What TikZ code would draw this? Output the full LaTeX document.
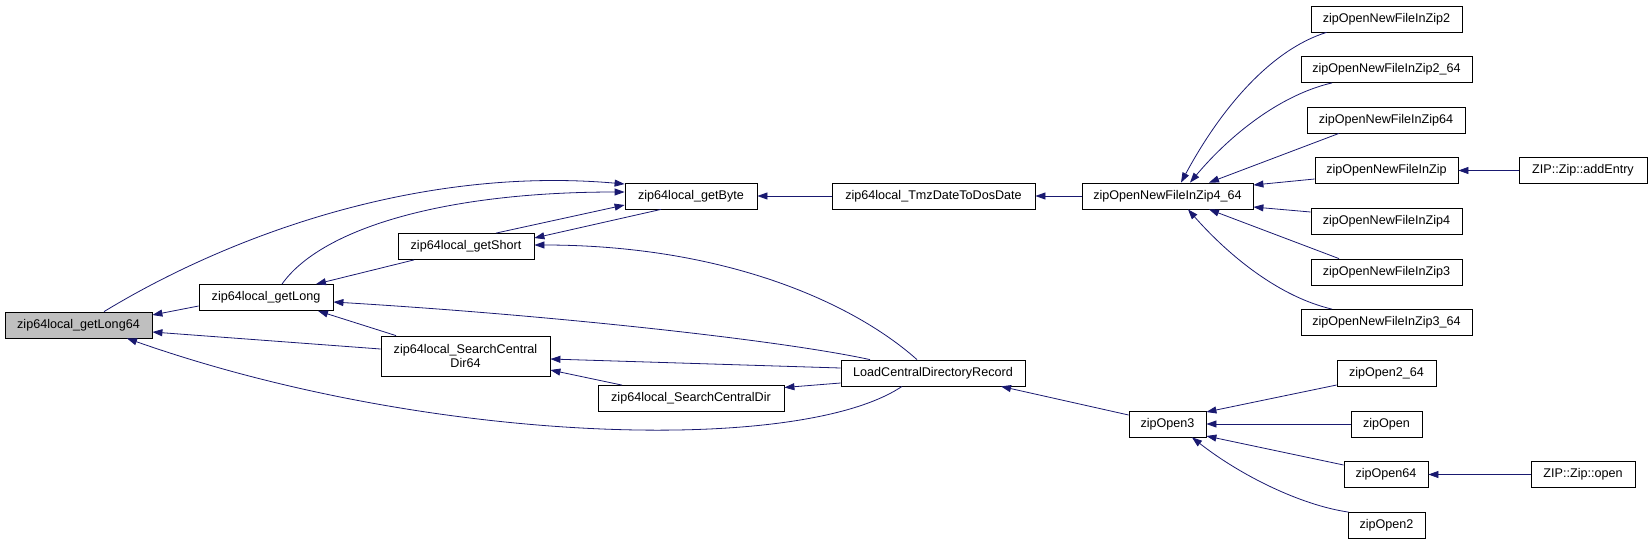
\documentclass[tikz,border=0pt]{standalone}
\usepackage{fontspec}
\setmainfont{Liberation Sans}
\usepackage{tikz}
\usetikzlibrary{arrows.meta}
\definecolor{edgeBlue}{HTML}{191970}

\begin{document}
\begin{tikzpicture}[
        x=1pt, y=-1pt,
        fn/.style={draw, line width=0.8pt, fill=white, font=\fontsize{12.6}{14.5}\selectfont, minimum height=26pt, inner xsep=2pt, inner ysep=0pt, align=center},
        focus/.style={fn, fill=black!25},
        call/.style={draw=edgeBlue, line width=0.8pt, {Triangle[length=10pt, width=7pt]}-}
    ]
    \useasboundingbox (0,0) rectangle (1652,544);

    \node[focus, minimum width=147pt] (getLong64) at (78.5,325) {zip64local\_getLong64};
    \node[fn, minimum width=134pt] (getLong) at (266,297.5) {zip64local\_getLong};
    \node[fn, minimum width=136pt] (getShort) at (466,246.5) {zip64local\_getShort};
    \node[fn, minimum width=169pt, minimum height=40pt] (searchDir64) at (465.5,356) {zip64local\_SearchCentral\\Dir64};
    \node[fn, minimum width=132pt] (getByte) at (691,196) {zip64local\_getByte};
    \node[fn, minimum width=203pt] (tmzDate) at (933.5,196) {zip64local\_TmzDateToDosDate};
    \node[fn, minimum width=184pt] (loadCDR) at (933,373) {LoadCentralDirectoryRecord};
    \node[fn, minimum width=186pt] (searchDir) at (691,398.5) {zip64local\_SearchCentralDir};
    \node[fn, minimum width=171pt] (newFile4x64) at (1167.5,196) {zipOpenNewFileInZip4\_64};
    \node[fn, minimum width=151pt] (newFile2) at (1386.5,19) {zipOpenNewFileInZip2};
    \node[fn, minimum width=171pt] (newFile2x64) at (1386.5,69.5) {zipOpenNewFileInZip2\_64};
    \node[fn, minimum width=158pt] (newFile64) at (1386,120) {zipOpenNewFileInZip64};
    \node[fn, minimum width=143pt] (newFile) at (1386.5,170.5) {zipOpenNewFileInZip};
    \node[fn, minimum width=128pt] (addEntry) at (1583,170.5) {ZIP::Zip::addEntry};
    \node[fn, minimum width=151pt] (newFile4) at (1386.5,221) {zipOpenNewFileInZip4};
    \node[fn, minimum width=151pt] (newFile3) at (1386.5,272) {zipOpenNewFileInZip3};
    \node[fn, minimum width=171pt] (newFile3x64) at (1386.5,322.5) {zipOpenNewFileInZip3\_64};
    \node[fn, minimum width=77pt] (open3) at (1167.5,424) {zipOpen3};
    \node[fn, minimum width=99pt] (open2x64) at (1386.5,373) {zipOpen2\_64};
    \node[fn, minimum width=71pt] (open) at (1386.5,424) {zipOpen};
    \node[fn, minimum width=84pt] (open64) at (1386,474.5) {zipOpen64};
    \node[fn, minimum width=104pt] (zipOpenMember) at (1583,474.5) {ZIP::Zip::open};
    \node[fn, minimum width=77pt] (open2) at (1386.5,525.5) {zipOpen2};

    \draw[call] ([yshift=12pt]getByte.west) .. controls (420,166) and (230,235) .. ([xshift=25.5pt]getLong64.north);
    \draw[call] ([yshift=4pt]getByte.west) .. controls (440,192) and (320,230) .. ([xshift=16pt]getLong.north);
    \draw[call] ([yshift=-9pt]getByte.west) -- ([xshift=30pt]getShort.north);
    \draw[call] ([yshift=8.5pt]getShort.east) -- ([xshift=-30pt]getByte.south);
    \draw[call] (getByte.east) -- (tmzDate.west);
    \draw[call] (tmzDate.east) -- (newFile4x64.west);
    \draw[call] ([yshift=1.5pt]getShort.east) .. controls (720,245) and (850,300) .. ([xshift=-16pt]loadCDR.north);
    \draw[call] ([yshift=-4.5pt]getLong.east) .. controls (550,315) and (780,340) .. ([xshift=-63pt]loadCDR.north);
    \draw[call] ([xshift=50pt]getLong.north) -- ([xshift=-52pt]getShort.south);
    \draw[call] ([xshift=52pt]getLong.south) -- ([xshift=-69.5pt]searchDir64.north);
    \draw[call] ([yshift=10pt]getLong64.east) -- ([yshift=-8.5pt]getLong.west);
    \draw[call] ([yshift=-7pt]getLong64.east) -- ([yshift=7pt]searchDir64.west);
    \draw[call] ([xshift=48.5pt]getLong64.south) .. controls (430,445) and (800,455) .. ([xshift=-31pt]loadCDR.south);
    \draw[call] ([yshift=-3pt]searchDir64.east) -- ([yshift=5pt]loadCDR.west);
    \draw[call] ([yshift=11pt]searchDir.east) -- ([yshift=-10pt]loadCDR.west);
    \draw[call] ([yshift=-14pt]searchDir64.east) -- ([xshift=-69pt]searchDir.north);
    \draw[call] ([xshift=68pt]loadCDR.south) -- ([yshift=9pt]open3.west);

    \draw[call] ([xshift=13.5pt]newFile4x64.north) .. controls (1220,110) and (1270,50) .. ([xshift=-60pt]newFile2.south);
    \draw[call] ([xshift=22.5pt]newFile4x64.north) .. controls (1230,135) and (1280,95) .. ([xshift=-54.5pt]newFile2x64.south);
    \draw[call] ([xshift=41.5pt]newFile4x64.north) -- ([xshift=-47pt]newFile64.south);
    \draw[call] ([yshift=11pt]newFile4x64.east) -- ([yshift=-8.5pt]newFile.west);
    \draw[call] ([yshift=-11pt]newFile4x64.east) -- ([yshift=9pt]newFile4.west);
    \draw[call] ([xshift=41.5pt]newFile4x64.south) -- ([xshift=-47.5pt]newFile3.north);
    \draw[call] ([xshift=20.5pt]newFile4x64.south) .. controls (1230,257) and (1280,297) .. ([xshift=-54.5pt]newFile3x64.north);
    \draw[call] (newFile.east) -- (addEntry.west);

    \draw[call] ([yshift=12pt]open3.east) -- ([yshift=-12pt]open2x64.west);
    \draw[call] (open3.east) -- (open.west);
    \draw[call] ([yshift=-12pt]open3.east) -- ([yshift=9.5pt]open64.west);
    \draw[call] ([xshift=24.5pt]open3.south) .. controls (1240,475) and (1300,505) .. ([xshift=-38pt]open2.north);
    \draw[call] (open64.east) -- (zipOpenMember.west);

\end{tikzpicture}
\end{document}
